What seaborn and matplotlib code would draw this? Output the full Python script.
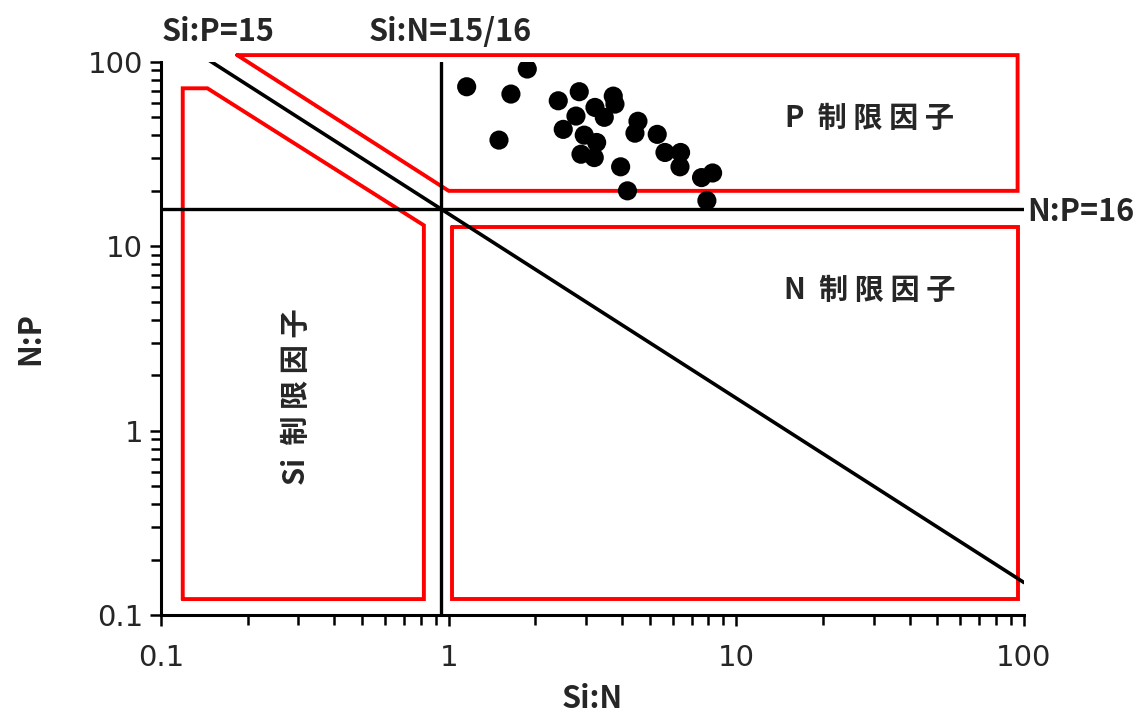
import numpy as np
import pandas as pd
import matplotlib
matplotlib.use("Agg")
import matplotlib.pyplot as plt
import seaborn as sns

# ---- data ----
si_n = [1.155, 1.876, 1.646, 1.496, 2.404, 2.844, 2.770, 2.502, 3.225, 3.475,
        3.734, 3.785, 2.960, 3.269, 2.884, 3.207, 3.961, 4.183, 4.550, 4.442,
        5.309, 5.648, 6.40, 6.37, 7.57, 8.27, 7.90]
n_p = [73.4, 91.6, 67.0, 37.7, 61.6, 69.0, 50.9, 43.1, 56.7, 50.1,
       65.3, 59.1, 40.1, 36.6, 31.6, 30.3, 27.0, 20.0, 47.7, 41.1,
       40.5, 32.3, 32.3, 27.0, 23.6, 25.0, 17.7]

redfield_np = 16
redfield_sin = 15 / 16
redfield_sip = 15

# limiting-factor region outlines (data units: Si:N, N:P)
p_region_x = [0.184, 95, 95, 1.0, 0.184]
p_region_y = [109, 109, 20, 20, 109]
n_region_x = [1.03, 95, 95, 1.03, 1.03]
n_region_y = [12.7, 12.7, 0.122, 0.122, 12.7]
si_region_x = [0.119, 0.119, 0.145, 0.82, 0.82, 0.119]
si_region_y = [0.122, 72, 72, 13.0, 0.122, 0.122]

region_labels = ["P  制 限 因 子", "N  制 限 因 子", "Si  制 限 因 子"]
ref_labels = ["Si:P=15", "Si:N=15/16", "N:P=16"]

# ---- style ----
sns.set_style("ticks")
plt.rcParams['font.family'] = ['Noto Sans CJK JP', 'DejaVu Sans']

fig = plt.figure(figsize=(11.36, 7.17), dpi=100)
ax = fig.add_axes([161 / 1136, 1 - 615 / 717, (1024 - 161) / 1136, (615 - 62) / 717])
ax.set_xscale("log")
ax.set_yscale("log")
ax.set_xlim(0.1, 100)
ax.set_ylim(0.1, 100)

red = "#FF0000"
lw_red = 2.8
for xs, ys in [(p_region_x, p_region_y), (n_region_x, n_region_y), (si_region_x, si_region_y)]:
    ax.plot(xs, ys, color=red, lw=lw_red, clip_on=False, solid_joinstyle="miter", zorder=2)

# reference lines
ax.axhline(redfield_np, color="black", lw=2.4, zorder=3)
ax.axvline(redfield_sin, color="black", lw=2.4, zorder=3)
line_x = np.logspace(-1, 2, 200)
line_df = pd.DataFrame({"x": line_x, "y": redfield_sip / line_x})
sns.lineplot(data=line_df, x="x", y="y", ax=ax, color="black", lw=2.6, zorder=3)

# data points
pts = pd.DataFrame({"Si:N": si_n, "N:P": n_p})
sns.scatterplot(data=pts, x="Si:N", y="N:P", ax=ax, color="black", s=190,
                edgecolor="none", zorder=5)

ax.set_xlim(0.1, 100)
ax.set_ylim(0.1, 100)

# ticks
ax.set_xticks([0.1, 1, 10, 100])
ax.set_xticklabels(["0.1", "1", "10", "100"])
ax.set_yticks([0.1, 1, 10, 100])
ax.set_yticklabels(["0.1", "1", "10", "100"])
ax.tick_params(which="both", direction="out", width=1.8, color="black")
ax.tick_params(which="major", length=8)
ax.tick_params(which="minor", length=7)
for lab in ax.get_xticklabels() + ax.get_yticklabels():
    lab.set_fontfamily("DejaVu Sans")
    lab.set_fontsize(21)
ax.tick_params(axis="x", pad=13)
ax.tick_params(axis="y", pad=5)

for s in ["top", "right"]:
    ax.spines[s].set_visible(False)
for s in ["left", "bottom"]:
    ax.spines[s].set_color("black")
    ax.spines[s].set_linewidth(2.2)

ax.set_xlabel("Si:N", fontsize=22, fontweight="bold", labelpad=8)
ax.set_ylabel("N:P", fontsize=22, fontweight="bold", labelpad=30)

# region labels
ax.text(29, 50, region_labels[0], fontsize=21, fontweight="bold", ha="center", va="center")
ax.text(29, 5.8, region_labels[1], fontsize=21, fontweight="bold", ha="center", va="center")
ax.text(0.294, 1.53, region_labels[2], fontsize=21, fontweight="bold", ha="center",
        va="center", rotation=90)

# reference line labels
fig.text(218 / 1136, 1 - 32 / 717, ref_labels[0], fontsize=22, fontweight="bold",
         ha="center", va="center")
fig.text(450 / 1136, 1 - 32 / 717, ref_labels[1], fontsize=22, fontweight="bold",
         ha="center", va="center")
fig.text(1027 / 1136, 1 - 212 / 717, ref_labels[2], fontsize=22, fontweight="bold",
         ha="left", va="center")

fig.savefig("out.png", dpi=100)
